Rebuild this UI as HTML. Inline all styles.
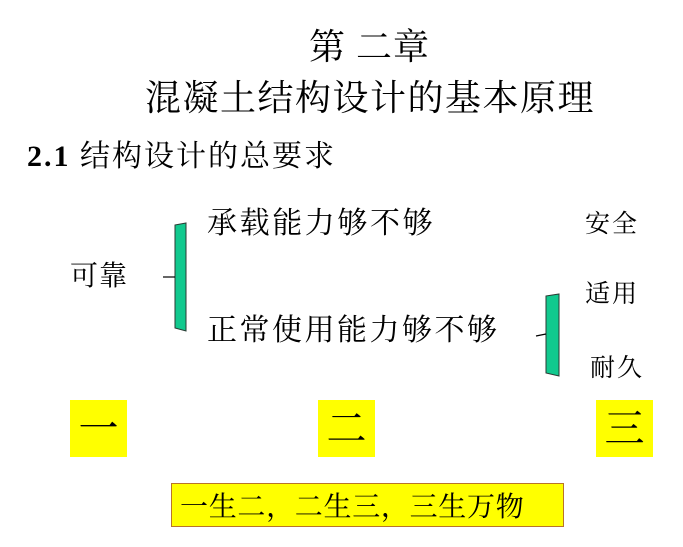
<!DOCTYPE html>
<html><head><meta charset="utf-8"><style>
body{margin:0;width:683px;height:547px;background:#fff;position:relative;overflow:hidden;font-family:"Liberation Serif","Noto Serif CJK SC",serif;color:#000}
.t{position:absolute;line-height:1;white-space:nowrap}
.box{position:absolute;background:#ffff00;display:flex;align-items:center;justify-content:center;font-size:40px;line-height:1}
</style></head><body>
<div class="t" style="left:309px;top:29px;font-size:36px;letter-spacing:1px">第 二章</div>
<div class="t" style="left:145px;top:80px;font-size:36px;letter-spacing:1.5px">混凝土结构设计的基本原理</div>
<div class="t" style="left:27px;top:142px;font-size:30px;letter-spacing:2px"><b>2.1</b> 结构设计的总要求</div>
<div class="t" style="left:207px;top:209px;font-size:30px;letter-spacing:2.6px">承载能力够不够</div>
<div class="t" style="left:207px;top:316px;font-size:30px;letter-spacing:2.5px">正常使用能力够不够</div>
<div class="t" style="left:70px;top:263px;font-size:28px;letter-spacing:1px">可靠</div>
<div class="t" style="left:585px;top:212px;font-size:25px;letter-spacing:2px">安全</div>
<div class="t" style="left:585px;top:282px;font-size:25px;letter-spacing:2px">适用</div>
<div class="t" style="left:590px;top:356px;font-size:25px;letter-spacing:2px">耐久</div>
<svg width="683" height="547" style="position:absolute;left:0;top:0">
<path d="M175 225 L186 223 L186 331 L175 328 Z" fill="#11c98e" stroke="#2a3a33" stroke-width="1"/>
<line x1="163" y1="277" x2="175" y2="277" stroke="#000" stroke-width="1.2"/>
<path d="M546 296 L559 294 L559 376 L546 373 Z" fill="#11c98e" stroke="#2a3a33" stroke-width="1"/>
<line x1="536" y1="336" x2="546" y2="334" stroke="#000" stroke-width="1.2"/>
</svg>
<div class="box" style="left:70px;top:400px;width:57px;height:57px">一</div>
<div class="box" style="left:318px;top:400px;width:57px;height:57px">二</div>
<div class="box" style="left:596px;top:400px;width:57px;height:57px">三</div>
<div class="box" style="left:171px;top:483px;width:383px;height:42px;border:1px solid #b8742a;font-size:28px;justify-content:flex-start;padding-left:8px;box-sizing:content-box;letter-spacing:0.7px;font-family:'Noto Serif CJK SC',serif">一生二，二生三，三生万物</div>
</body></html>
